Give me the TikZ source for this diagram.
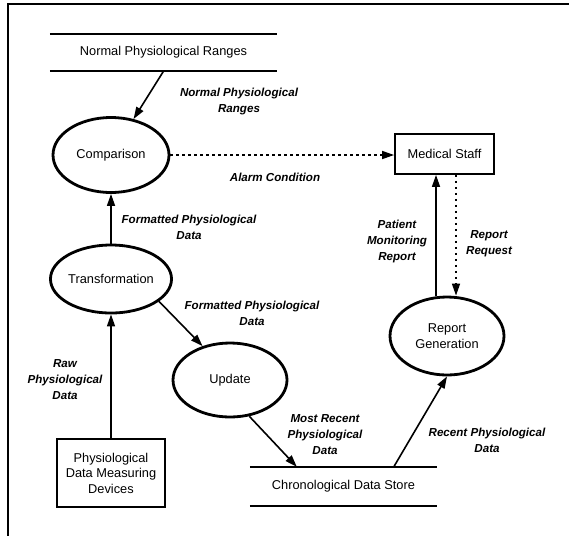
\documentclass[tikz,border=0pt]{standalone}
\usepackage{fontspec}
\setmainfont{Liberation Sans}
\usetikzlibrary{shapes.geometric,arrows.meta,calc}
\begin{document}
\begin{tikzpicture}[x=1pt,y=-1pt,
  proc/.style={ellipse,draw,line width=2.8pt,inner sep=0pt,font=\fontsize{12.8}{15.5}\selectfont,align=center},
  ent/.style={rectangle,draw,line width=1.8pt,inner sep=0pt,font=\fontsize{12.8}{15.5}\selectfont,align=center},
  store/.style={rectangle,inner sep=0pt,font=\fontsize{12.8}{15.5}\selectfont},
  storeline/.style={line width=1.5pt},
  lbl/.style={font=\fontsize{11.6}{16}\selectfont\bfseries\itshape,align=center,inner sep=0pt},
  arr/.style={line width=1.6pt,-{Triangle[length=12pt,width=8pt]}},
  dotarr/.style={line width=1.6pt,dash pattern=on 2.5pt off 3.5pt,-{Triangle[length=12pt,width=8pt]}}]
\useasboundingbox (0,0) rectangle (569,536);
\fill[white] (0,0) rectangle (569,536);
% frame
\draw[line width=1.5pt] (569,4) -- (8,4) -- (8,536);
% stores
\node[store,minimum width=227pt,minimum height=37pt] (s1) at (163.5,52.5) {Normal Physiological Ranges};
\draw[storeline] (s1.north west) -- (s1.north east);
\draw[storeline] (s1.south west) -- (s1.south east);
\node[store,minimum width=187pt,minimum height=39pt] (s2) at (343.5,486.5) {Chronological Data Store};
\draw[storeline] (s2.north west) -- (s2.north east);
\draw[storeline] (s2.south west) -- (s2.south east);
% processes
\node[proc,minimum width=116pt,minimum height=75pt] (cmp) at (111,155) {Comparison};
\node[proc,minimum width=116pt,minimum height=68pt] (trans) at (111,279) {Transformation};
\node[proc,minimum width=114pt,minimum height=74pt] (upd) at (230,380) {Update};
\node[proc,minimum width=114pt,minimum height=78pt] (rep) at (447,336) {Report\\Generation};
% entities
\node[ent,minimum width=99pt,minimum height=40pt] (staff) at (444.5,154) {Medical Staff};
\node[ent,minimum width=108pt,minimum height=68pt] (dev) at (111,473) {Physiological\\Data Measuring\\Devices};
% flows
\draw[arr] (s1.south) -- (cmp);
\draw[dotarr] (cmp.east) -- (cmp.east -| staff.west);
\draw[arr] (trans.north) -- (cmp.south);
\draw[arr] (dev.north) -- (trans.south);
\draw[arr] (trans.-25) -- (upd.129);
\draw[arr] (upd.-62) -- ([xshift=47pt]s2.north west);
\draw[arr] ([xshift=144pt]s2.north west) -- (rep.south);
\draw[arr] ([xshift=-11pt]rep.north) -- ([xshift=-11pt]rep.north |- staff.south);
\draw[dotarr] ([xshift=9pt]rep.north |- staff.south) -- ([xshift=9pt]rep.north);
% labels
\node[lbl] (l1) at (239,101) {Normal Physiological\\Ranges};
\node[lbl] (l2) at (275,177) {Alarm Condition};
\node[lbl] (l3) at (189,227) {Formatted Physiological\\Data};
\node[lbl] (l4) at (252,313) {Formatted Physiological\\Data};
\node[lbl] (l5) at (65,380) {Raw\\Physiological\\Data};
\node[lbl] (l6) at (325,435) {Most Recent\\Physiological\\Data};
\node[lbl] (l7) at (487,440) {Recent Physiological\\Data};
\node[lbl] (l8) at (397,241) {Patient\\Monitoring\\Report};
\node[lbl] (l9) at (489,244) {Report\\Request};
\end{tikzpicture}
\end{document}
